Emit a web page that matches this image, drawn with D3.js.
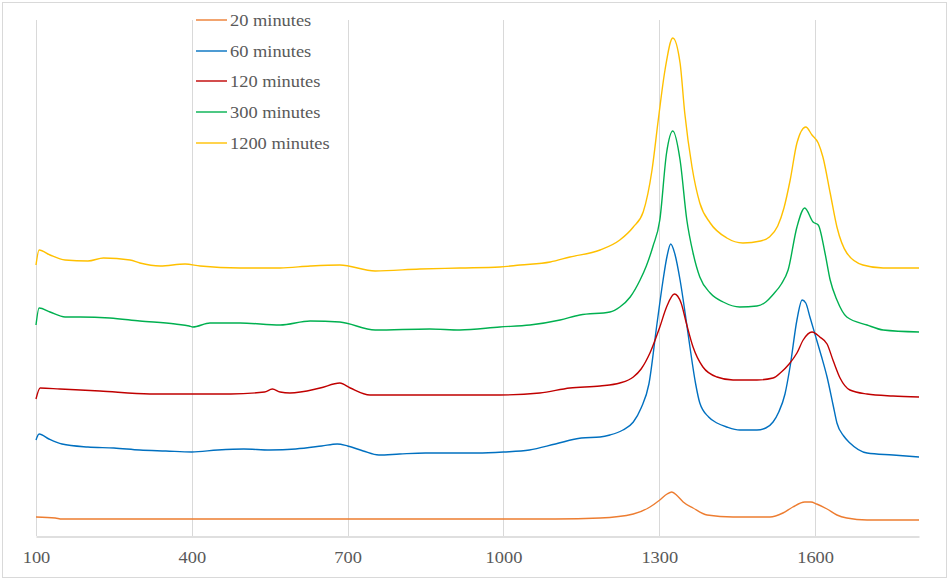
<!DOCTYPE html>
<html>
<head>
<meta charset="utf-8">
<script src="https://cdn.jsdelivr.net/npm/d3@7"></script>
<style>
  html, body { margin: 0; padding: 0; background: #fff; }
  svg { display: block; }
</style>
</head>
<body>
<svg id="chart" width="949" height="580"></svg>
<script>
// ---- data ----
const seriesNames = ["20 minutes", "60 minutes", "120 minutes", "300 minutes", "1200 minutes"];
const seriesColors = ["#ED7D31", "#0070C0", "#C00000", "#00B050", "#FFC000"];
const xTicks = [100, 400, 700, 1000, 1300, 1600];

// [Raman shift, intensity]
const s20 = [[100,19],[137,18],[150,17],[300,17],[500,17],[700,17],[900,17],[1100,17],[1186,18],[1250,22],[1282,29],[1301,36],[1315,42],[1324,44],[1335,40],[1346,34],[1365,28],[1392,21],[1442,19],[1513,19],[1538,23],[1557,29],[1580,34],[1592,34],[1603,32],[1623,27],[1642,21],[1661,18],[1700,16],[1800,16]];
const s60 = [[100,96],[106,102],[125,97],[150,92],[200,89],[250,88],[300,86],[350,85],[400,84],[450,86],[500,87],[550,86],[600,87],[650,90],[680,92],[700,90],[730,85],[760,81],[800,82],[850,83],[900,83],[950,83],[1000,84],[1050,86],[1100,92],[1150,98],[1186,99],[1205,101],[1230,106],[1250,114],[1265,128],[1280,152],[1295,210],[1307,255],[1315,280],[1322,292],[1330,282],[1340,256],[1350,222],[1359,189],[1370,152],[1378,133],[1395,119],[1411,113],[1430,109],[1455,106],[1488,106],[1505,108],[1519,114],[1530,124],[1542,142],[1552,170],[1565,216],[1575,236],[1582,233],[1590,219],[1603,196],[1612,180],[1623,159],[1635,130],[1642,113],[1655,100],[1667,93],[1700,83],[1750,81],[1800,79]];
const s120 = [[100,137],[108,148],[146,147],[223,145],[319,142],[416,142],[475,142],[540,144],[555,147],[570,144],[589,143],[647,148],[685,153],[705,148],[743,141],[858,141],[993,141],[1070,143],[1128,148],[1186,150],[1224,153],[1250,159],[1265,167],[1282,183],[1301,209],[1314,229],[1329,242],[1342,233],[1352,213],[1365,189],[1384,169],[1411,159],[1442,156],[1488,156],[1519,158],[1535,164],[1550,172],[1565,183],[1577,196],[1594,204],[1609,199],[1623,192],[1635,175],[1648,158],[1667,146],[1700,142],[1750,140],[1800,139]];
const s300 = [[100,211],[106,228],[127,224],[156,219],[185,219],[242,218],[300,215],[368,212],[395,210],[402,209],[435,213],[493,213],[570,211],[628,215],[685,214],[753,206],[858,207],[916,206],[993,209],[1051,211],[1109,216],[1147,221],[1205,224],[1224,229],[1244,239],[1263,256],[1275,270],[1288,290],[1301,316],[1314,383],[1326,405],[1340,376],[1353,316],[1365,283],[1378,259],[1398,243],[1423,234],[1455,229],[1488,230],[1505,234],[1520,242],[1535,252],[1548,266],[1565,309],[1580,328],[1596,314],[1606,311],[1619,283],[1629,256],[1642,236],[1661,219],[1700,211],[1731,206],[1800,204]];
const s1200 = [[100,271],[106,286],[127,281],[156,276],[200,275],[230,278],[281,276],[300,273],[339,270],[387,272],[416,270],[493,268],[570,268],[628,270],[685,271],[753,265],[839,267],[916,268],[993,269],[1032,271],[1090,274],[1128,279],[1186,286],[1224,296],[1250,309],[1269,324],[1286,366],[1298,416],[1311,466],[1326,498],[1340,473],[1349,423],[1363,369],[1378,333],[1398,313],[1430,298],[1461,293],[1495,295],[1512,299],[1528,310],[1540,328],[1552,356],[1565,393],[1582,409],[1594,401],[1606,393],[1615,379],[1629,343],[1642,309],[1661,283],[1692,271],[1731,268],[1800,268]];
const seriesData = [s20, s60, s120, s300, s1200];

// ---- chart ----
const svg = d3.select("#chart");
const W = 949, H = 580;
const FONT = "'Liberation Serif', 'Times New Roman', serif";

svg.append("rect")
  .attr("x", 2.5).attr("y", 2.5)
  .attr("width", W - 5).attr("height", H - 5)
  .attr("fill", "#fff").attr("stroke", "#D9D9D9").attr("stroke-width", 1);

const x = d3.scaleLinear().domain([100, 1800]).range([36, 919]);
const y = d3.scaleLinear().domain([0, 516]).range([536, 20]);

// gridlines
svg.append("g")
  .selectAll("line")
  .data(xTicks)
  .join("line")
  .attr("x1", d => Math.round(x(d)) + 0.5)
  .attr("x2", d => Math.round(x(d)) + 0.5)
  .attr("y1", y(516))
  .attr("y2", y(0))
  .attr("stroke", "#D9D9D9")
  .attr("stroke-width", 1);

// x axis
const xAxis = d3.axisBottom(x).tickValues(xTicks).tickSize(0).tickPadding(15).tickFormat(d3.format("d"));
const gx = svg.append("g")
  .attr("transform", `translate(0,${y(0) + 0.5})`)
  .call(xAxis);
gx.select(".domain").attr("stroke", "#BFBFBF").attr("stroke-width", 1);
gx.selectAll("text")
  .attr("fill", "#595959")
  .attr("transform", "scale(1.15,1)")
  .style("font-family", FONT)
  .style("font-size", "16px");

// lines
const line = d3.line()
  .x(d => x(d[0]))
  .y(d => y(d[1]))
  .curve(d3.curveMonotoneX);

svg.append("g")
  .selectAll("path")
  .data(seriesData)
  .join("path")
  .attr("d", d => line(d))
  .attr("fill", "none")
  .attr("stroke", (d, i) => seriesColors[i])
  .attr("stroke-width", 1.4)
  .attr("stroke-linejoin", "round");

// legend
const legend = svg.append("g");
const legendY = [20, 51, 81, 112, 143];
seriesNames.forEach((name, i) => {
  const gy = legendY[i];
  legend.append("line")
    .attr("x1", 196).attr("x2", 227)
    .attr("y1", gy).attr("y2", gy)
    .attr("stroke", seriesColors[i]).attr("stroke-width", 1.4);
  legend.append("text")
    .attr("transform", `translate(230,${gy}) scale(1.15,1)`)
    .attr("dy", "0.35em")
    .attr("fill", "#595959")
    .style("font-family", FONT)
    .style("font-size", "16px")
    .text(name);
});
</script>
</body>
</html>
